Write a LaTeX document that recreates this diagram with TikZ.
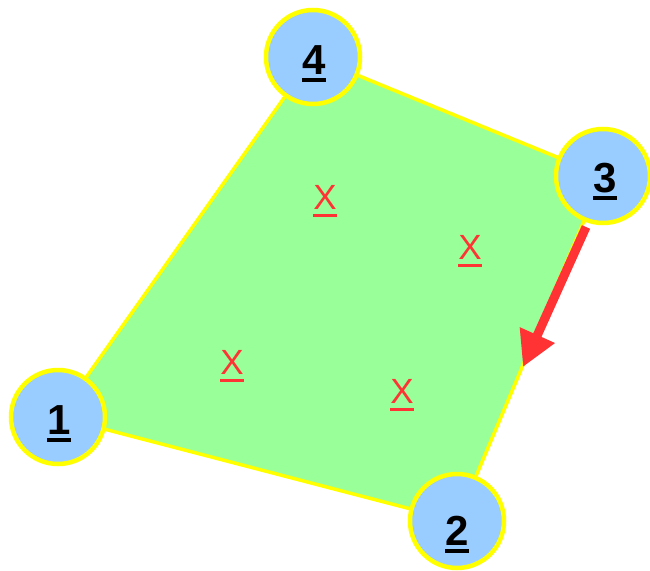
\documentclass[tikz,border=0pt]{standalone}
\usepackage{fontspec}
\setmainfont{Liberation Sans}
\usetikzlibrary{arrows.meta}
\definecolor{cblue}{HTML}{99CCFF}
\definecolor{cyel}{HTML}{FFFF00}
\definecolor{cgreen}{HTML}{99FF99}
\definecolor{cred}{HTML}{FF3333}
\newcommand\myul[3]{\setbox0=\hbox{#1}\rlap{\rule[-#2]{\wd0}{#3}}\box0}
\tikzset{
  vert/.style={circle, draw=cyel, line width=4.5pt, fill=cblue, minimum size=94pt, inner sep=0pt},
  num/.style={anchor=base, inner sep=0pt, font=\fontsize{42}{42}\selectfont\bfseries, text=black},
  xlab/.style={anchor=base, inner sep=0pt, font=\fontsize{35}{35}\selectfont, text=cred},
  area/.style={fill=cgreen, draw=cyel, line width=3.5pt, line join=miter},
  move/.style={draw=cred, line width=9pt, -{Triangle[length=35pt,width=36pt]}}
}
\begin{document}
\begin{tikzpicture}[x=1pt,y=-1pt]
\useasboundingbox (0,0) rectangle (650,570);
\coordinate (c1) at (58,417);
\coordinate (c2) at (457,521);
\coordinate (c3) at (603,176);
\coordinate (c4) at (313,57);
\draw[area] (c1) -- (c2) -- (c3) -- (c4) -- cycle;
\node[vert] (n4) at (c4) {};
\node[vert] (n3) at (c3) {};
\node[vert] (n1) at (c1) {};
\node[vert] (n2) at (c2) {};
\node[num] (t4) at (314,74) {\myul{4}{8.3pt}{4pt}};
\node[num] (t3) at (605,192) {\myul{3}{8.3pt}{4pt}};
\node[num] (t1) at (59,434) {\myul{1}{8.3pt}{4pt}};
\node[num] (t2) at (457,545) {\myul{2}{8.3pt}{4pt}};
\node[xlab] (xa) at (325,209) {\myul{X}{8.3pt}{3.3pt}};
\node[xlab] (xb) at (470,259) {\myul{X}{8.3pt}{3.3pt}};
\node[xlab] (xc) at (232,374) {\myul{X}{8.3pt}{3.3pt}};
\node[xlab] (xd) at (402,403) {\myul{X}{8.3pt}{3.3pt}};
\coordinate (a0) at (586,227);
\coordinate (a1) at (523,367);
\draw[move] (a0) -- (a1);
\end{tikzpicture}
\end{document}
